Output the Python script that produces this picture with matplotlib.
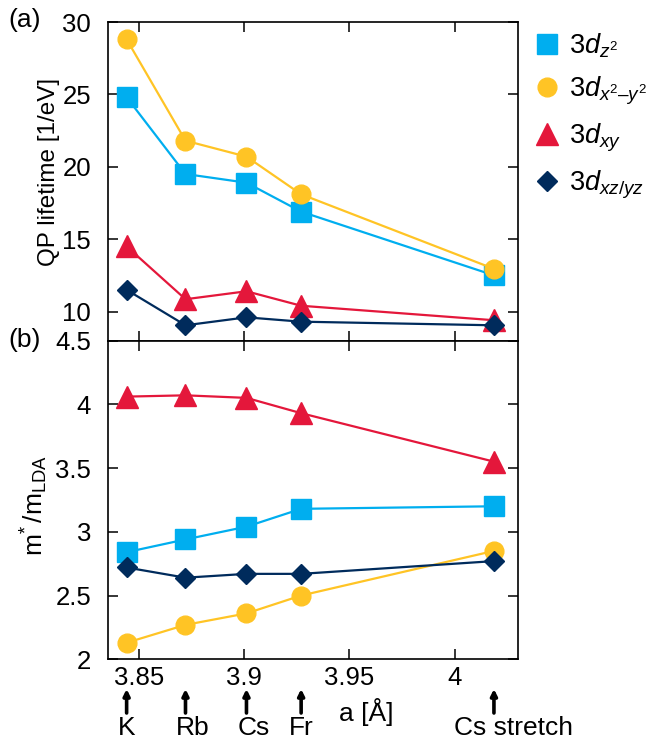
import matplotlib
matplotlib.use("Agg")
import matplotlib.pyplot as plt
from matplotlib.transforms import blended_transform_factory

plt.rcParams['font.family'] = ['Liberation Sans', 'DejaVu Sans']
plt.rcParams['mathtext.fontset'] = 'custom'
plt.rcParams['mathtext.rm'] = 'Liberation Sans'
plt.rcParams['mathtext.it'] = 'Liberation Sans:italic'
plt.rcParams['mathtext.bf'] = 'Liberation Sans:bold'

# ---- data ----
lattice = [3.844, 3.872, 3.901, 3.927, 4.0187]
compounds = ["K", "Rb", "Cs", "Fr", "Cs stretch"]

orbitals = [r'$\mathit{3d}_{\mathit{z}^{\mathit{2}}}$',
            r'$\mathit{3d}_{\mathit{x}^{\mathit{2}}\mathrm{–}\mathit{y}^{\mathit{2}}}$',
            r'$\mathit{3d}_{\mathit{xy}}$',
            r'$\mathit{3d}_{\mathit{xz/yz}}$']

lifetime_z2 = [24.8, 19.5, 18.9, 16.9, 12.5]
lifetime_x2y2 = [28.8, 21.8, 20.7, 18.1, 12.95]
lifetime_xy = [14.5, 10.85, 11.4, 10.4, 9.4]
lifetime_xzyz = [11.5, 9.05, 9.6, 9.3, 9.05]

mass_z2 = [2.84, 2.94, 3.04, 3.18, 3.20]
mass_x2y2 = [2.13, 2.27, 2.36, 2.50, 2.85]
mass_xy = [4.06, 4.07, 4.05, 3.93, 3.55]
mass_xzyz = [2.72, 2.64, 2.67, 2.67, 2.77]

top_yticks = [10, 15, 20, 25, 30]
bot_yticks = [2, 2.5, 3, 3.5, 4, 4.5]
bot_ytick_labels = ["2", "2.5", "3", "3.5", "4", "4.5"]
xticks = [3.85, 3.9, 3.95, 4.0]
xtick_labels = ["3.85", "3.9", "3.95", "4"]

colors = ["#00AEEF", "#FFC425", "#E4173B", "#002B5C"]
markers = ["s", "o", "^", "D"]
msizes = [14, 13.5, 15.5, 10]

W, H = 658, 741
fig = plt.figure(figsize=(W / 100, H / 100), dpi=100)
left, right = 107.7 / W, 517.7 / W
ax1 = fig.add_axes([left, 1 - 340.5 / H, right - left, (340.5 - 22) / H])
ax2 = fig.add_axes([left, 1 - 659.3 / H, right - left, (659.3 - 340.5) / H])

fs = 18.5
top_series = [lifetime_z2, lifetime_x2y2, lifetime_xy, lifetime_xzyz]
bot_series = [mass_z2, mass_x2y2, mass_xy, mass_xzyz]
order = [3, 2, 0, 1]
for i in order:
    ax1.plot(lattice, top_series[i], color=colors[i], marker=markers[i],
             ms=msizes[i], lw=1.6, label=orbitals[i], clip_on=False, zorder=3 + i)
    ax2.plot(lattice, bot_series[i], color=colors[i], marker=markers[i],
             ms=msizes[i], lw=1.6, clip_on=False, zorder=3 + i)

for ax in (ax1, ax2):
    ax.set_xlim(3.835, 4.03)
    ax.set_xticks(xticks)
    ax.tick_params(direction='in', length=7, width=1.1, top=True, right=True,
                   labelsize=fs)
    ax.tick_params(axis='y', pad=12)
    ax.tick_params(axis='x', pad=5)
    for sp in ax.spines.values():
        sp.set_linewidth(1.2)

ax1.set_ylim(8, 30)
ax1.set_yticks(top_yticks)
ax1.set_xticklabels([])
ax1.set_ylabel("QP lifetime [1/eV]", fontsize=17.5)
ax1.yaxis.set_label_coords(-0.116, 0.529)

ax2.set_ylim(2, 4.5)
ax2.set_yticks(bot_yticks)
ax2.set_yticklabels(bot_ytick_labels)
ax2.set_xticklabels(xtick_labels)
ax2.set_ylabel(r"m$^{*}\,$/m$_{\rm LDA}$", fontsize=19)
ax2.yaxis.set_label_coords(-0.14, 0.484)

fig.text(8 / W, 1 - 20 / H, "(a)", fontsize=19, va='center', ha='left')
fig.text(8 / W, 1 - 340 / H, "(b)", fontsize=19, va='center', ha='left')

# legend
handles, labels = ax1.get_legend_handles_labels()
hl = dict(zip(labels, handles))
leg = fig.legend([hl[o] for o in orbitals], orbitals, loc='upper left',
                 bbox_to_anchor=(533.5 / W, 1 - 31 / H), frameon=False,
                 fontsize=19.5, handlelength=1.0, handletextpad=0.31,
                 labelspacing=0.55, borderpad=0, borderaxespad=0)
for h in leg.legend_handles:
    h.set_linestyle('none')

# arrows and compound labels below the axis
trans = blended_transform_factory(ax2.transData, fig.transFigure)
label_dx = [0, 7, 7, 0, 20]
for x, name, dx in zip(lattice, compounds, label_dx):
    ax2.annotate('', xy=(x, 1 - 689 / H), xytext=(x, 1 - 713 / H),
                 xycoords=trans, textcoords=trans,
                 arrowprops=dict(arrowstyle='-|>', lw=2.6, color='k',
                                 mutation_scale=9, shrinkA=0, shrinkB=0),
                 annotation_clip=False)
    ax2.annotate(name, xy=(x, 1 - 728 / H), xycoords=trans,
                 xytext=(dx, 0), textcoords='offset pixels',
                 ha='center', va='center', fontsize=19,
                 annotation_clip=False)
fig.text(366 / W, 1 - 712 / H, "a [Å]", fontsize=19, ha='center', va='center')

fig.savefig("out.png", dpi=100)
